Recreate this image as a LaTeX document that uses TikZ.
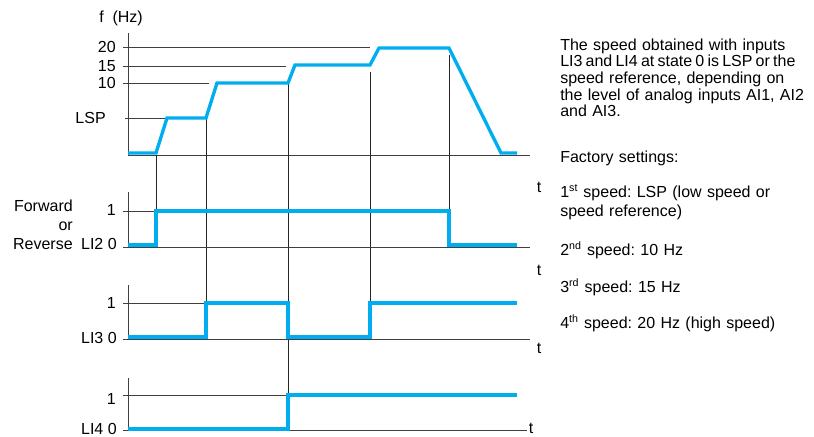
\documentclass[tikz,border=0pt]{standalone}
\usepackage{fontspec}
\setmainfont{Liberation Sans}
\usetikzlibrary{positioning}
\definecolor{sigblue}{RGB}{0,174,239}
\frenchspacing

\begin{document}
\begin{tikzpicture}[
      x=0.75pt, y=-0.75pt,
      font=\fontsize{12}{12.5}\selectfont,
      axis/.style={draw=black!75, line width=0.75pt},
      marker/.style={draw=black!85, line width=0.75pt},
      signal/.style={draw=sigblue, line width=2.5pt, line join=miter},
      lbl/.style={inner sep=0pt, anchor=east},
      tlbl/.style={inner sep=0pt},
      note/.style={inner sep=0pt, anchor=base west, align=left, text width=205pt},
  ]
  \useasboundingbox (0,0) rectangle (814,436);

  % --- Speed graph ---
  \node[tlbl, anchor=west] (fhz) at (99,18) {f\ \ (Hz)};
  \draw[axis] (128,33) -- (128,155) -- (530,155);
  \draw[axis] (123,47) -- (370,47);
  \draw[axis] (123,66) -- (286,66);
  \draw[axis] (123,83) -- (209,83);
  \draw[axis] (125,118) -- (167,118);
  \node[lbl] (f20) at (116,47) {20};
  \node[lbl] (f15) at (116,66) {15};
  \node[lbl] (f10) at (116,83) {10};
  \node[lbl] (flsp) at (106,118) {LSP};
  \node[tlbl] (t1) at (539,187) {t};

  % --- Time markers ---
  \draw[marker] (156,155) -- (156,211);
  \draw[marker] (206,118) -- (206,303);
  \draw[marker] (288,83) -- (288,395);
  \draw[marker] (370,72) -- (370,303);
  \draw[marker] (449,55) -- (449,211);

  \draw[signal] (128,153) -- (156,153) -- (167,118) -- (206,118) -- (217,83)
      -- (288,83) -- (295,65) -- (370,65) -- (379,48) -- (449,48) -- (501,153) -- (517,153);

  % --- LI2: forward or reverse ---
  \draw[axis] (128,192) -- (128,247);
  \draw[axis] (123,247) -- (530,247);
  \draw[axis] (123,211) -- (156,211);
  \draw[signal] (128,245) -- (156,245) -- (156,211) -- (449,211) -- (449,245) -- (517,245);
  \node[lbl] (li2one) at (116,210) {1};
  \node[lbl] (li2zero) at (117,244) {LI2 0};
  \node[lbl] (fwd) at (73,206) {Forward};
  \node[lbl] (orr) at (73,226) {or};
  \node[lbl] (rev) at (73,244) {Reverse};
  \node[tlbl] (t2) at (539,270) {t};

  % --- LI3 ---
  \draw[axis] (128,285) -- (128,339);
  \draw[axis] (123,339) -- (530,339);
  \draw[axis] (123,303) -- (206,303);
  \draw[signal] (128,337) -- (206,337) -- (206,303) -- (288,303) -- (288,337)
      -- (370,337) -- (370,303) -- (517,303);
  \node[lbl] (li3one) at (116,303) {1};
  \node[lbl] (li3zero) at (117,338) {LI3 0};
  \node[tlbl] (t3) at (539,348) {t};

  % --- LI4 ---
  \draw[axis] (128,378) -- (128,430);
  \draw[axis] (123,430) -- (527,430);
  \draw[axis] (123,395) -- (288,395);
  \draw[signal] (128,429) -- (288,429) -- (288,395) -- (517,395);
  \node[lbl] (li4one) at (116,399) {1};
  \node[lbl] (li4zero) at (117,429) {LI4 0};
  \node[tlbl] (t4) at (531,428) {t};

  % --- Notes ---
  \node[note] (desc) at (560,50) {The speed obtained with inputs\\
      {\spaceskip=0.2em plus 0.05em\relax LI3 and LI4 at state 0 is LSP or the}\\
      speed reference, depending on\\
      the level of analog inputs AI1, AI2\\
      and AI3.};
  \node[note] (factory) at (560,162) {Factory settings:};
  \node[note] (sp1) at (560,197) {1\textsuperscript{st} speed: LSP (low speed or\\[2pt]
      speed reference)};
  \node[note] (sp2) at (560,255) {2\textsuperscript{nd} speed: 10 Hz};
  \node[note] (sp3) at (560,292) {3\textsuperscript{rd} speed: 15 Hz};
  \node[note] (sp4) at (560,328) {4\textsuperscript{th} speed: 20 Hz (high speed)};

\end{tikzpicture}
\end{document}
